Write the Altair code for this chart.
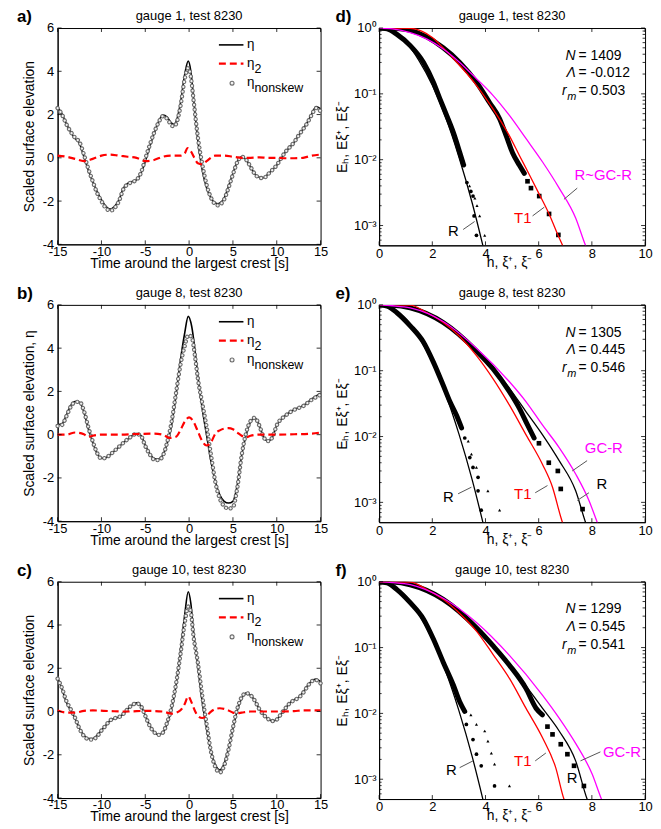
import altair as alt
import pandas as pd

FONT = "Liberation Sans"

# ---------------- time series (panels a, b, c) ----------------
a_t = [-15, -14.5, -14, -13.5, -13, -12.5, -12, -11.5, -11, -10.5, -10, -9.5, -9, -8.5, -8, -7.5, -7, -6.5, -6, -5.5,
       -5, -4.5, -4, -3.5, -3, -2.5, -2, -1.7, -1.5, -1, -0.5, -0.1, 0.2, 0.5, 1, 1.5, 2, 2.5, 3, 3.3,
       3.5, 4, 4.5, 5, 5.5, 6, 6.5, 7, 7.5, 8, 8.5, 9, 9.5, 10, 10.5, 11, 11.5, 12, 12.5, 13, 13.5, 14, 14.5, 15]
a_eta = [2.34, 2.03, 1.57, 1.19, 0.89, 0.66, 0.05, -0.56, -1.1, -1.56, -1.94, -2.24, -2.37, -2.24, -1.94, -1.4, -1.18, -1.1, -1.02, -0.72,
         -0.18, 0.5, 1.11, 1.65, 1.98, 1.88, 1.6, 1.54, 1.65, 2.49, 3.86, 4.47, 4.0, 2.79, 0.81, -0.56, -1.4, -1.86, -2.09, -2.12,
         -2.09, -1.86, -1.33, -0.72, -0.18, 0.05, -0.08, -0.41, -0.75, -0.9, -0.92, -0.75, -0.56, -0.34, -0.03, 0.27, 0.5, 0.73, 1.04, 1.34,
         1.65, 2.03, 2.37, 2.26]
a_nonskew = [2.3, 2.0, 1.55, 1.2, 0.92, 0.72, 0.15, -0.5, -1.08, -1.62, -2.0, -2.32, -2.45, -2.32, -2.0, -1.45, -1.22, -1.12, -1.02, -0.7,
             -0.05, 0.58, 1.15, 1.62, 1.92, 1.8, 1.5, 1.45, 1.55, 2.35, 3.65, 4.15, 3.75, 2.7, 0.95, -0.3, -1.25, -1.85, -2.15, -2.2,
             -2.17, -1.92, -1.38, -0.76, -0.2, 0.05, -0.08, -0.41, -0.75, -0.92, -0.94, -0.76, -0.56, -0.34, -0.02, 0.28, 0.5, 0.73, 1.04, 1.32,
             1.62, 2.0, 2.3, 2.15]
a_t2 = [-15, -14, -13, -12, -11, -10, -9, -8, -7, -6, -5, -4, -3, -2, -1, -0.5, -0.2, 0.2, 0.6, 1,
        1.5, 2, 3, 4, 5, 6, 7, 8, 9, 10, 11, 12, 13, 14, 15]
a_eta2 = [0.1, 0.05, -0.05, -0.15, -0.05, 0.1, 0.15, 0.1, 0.05, 0, -0.15, -0.1, 0.05, 0.1, 0.1, 0.2, 0.45, 0.3, 0, -0.25,
          -0.3, -0.15, 0.1, 0.1, 0.05, 0, 0.0, 0.02, 0, 0, -0.02, -0.02, 0, 0.1, 0.15]

b_t = [-15, -14.5, -14, -13.5, -13, -12.5, -12, -11.5, -11, -10.5, -10, -9.5, -9, -8, -7, -6, -5.5, -5, -4.5, -4,
       -3.5, -3, -2.5, -2, -1.5, -1, -0.5, -0.1, 0.3, 0.7, 1, 1.5, 2, 2.5, 3, 3.5, 4, 4.5, 5, 5.5,
       6, 6.5, 7, 7.5, 8, 8.5, 9, 9.5, 10, 11, 12, 13, 14, 15]
b_eta = [0.46, 0.5, 0.9, 1.35, 1.53, 1.5, 1.05, 0.27, -0.34, -0.87, -1.1, -1.07, -0.92, -0.56, -0.21, 0.05, -0.03, -0.49, -0.87, -1.1,
         -1.13, -0.95, -0.41, 0.43, 1.8, 3.4, 4.7, 5.47, 5.0, 3.8, 2.72, 1.19, -0.03, -1.25, -2.17, -2.78, -3.08, -3.16, -3.08, -2.32,
         -0.95, -0.03, 0.58, 0.78, 0.43, -0.11, -0.29, -0.11, 0.43, 0.89, 1.16, 1.34, 1.65, 1.92]
b_nonskew = [0.4, 0.45, 0.85, 1.3, 1.5, 1.52, 1.1, 0.35, -0.3, -0.85, -1.1, -1.07, -0.92, -0.56, -0.21, 0.03, -0.05, -0.52, -0.9, -1.15,
             -1.18, -0.98, -0.35, 0.58, 1.9, 3.2, 4.1, 4.6, 4.5, 3.55, 2.6, 1.45, 0.35, -0.95, -2.2, -2.95, -3.3, -3.42, -3.35, -2.45,
             -0.95, 0.07, 0.62, 0.78, 0.43, -0.11, -0.3, -0.12, 0.43, 0.88, 1.15, 1.32, 1.62, 1.85]
b_t2 = [-15, -14, -13, -12, -11.5, -11, -10, -8, -6, -4, -3, -2.2, -1.5, -1, -0.5, 0, 0.5, 1, 1.5, 2,
        2.5, 3, 3.5, 4, 4.5, 5, 5.5, 6, 6.5, 7, 8, 10, 12, 14, 15]
b_eta2 = [0, 0, 0.1, 0.02, -0.1, -0.05, 0, 0, 0.03, 0.05, 0, -0.15, -0.1, 0.2, 0.6, 0.8, 0.6, 0.15, -0.3, -0.5,
          -0.35, 0.05, 0.2, 0.28, 0.3, 0.25, 0.1, -0.05, -0.12, -0.05, 0, 0, 0.02, 0.05, 0.1]

c_t = [-15, -14.5, -14, -13.5, -13, -12.5, -12, -11.5, -11, -10.5, -10, -9.5, -9, -8.5, -8, -7.5, -7, -6.5, -6, -5.5,
       -5, -4.5, -4, -3.5, -3, -2.5, -2, -1.5, -1, -0.5, -0.1, 0.2, 0.5, 1, 1.5, 2, 2.5, 3, 3.5, 4,
       4.5, 5, 5.5, 6, 6.5, 7, 7.5, 8, 8.5, 9, 9.5, 10, 10.5, 11, 11.5, 12, 12.5, 13, 13.5, 14, 14.5, 15]
c_eta = [1.57, 1.04, 0.43, 0.05, -0.34, -0.79, -1.1, -1.25, -1.25, -1.1, -0.87, -0.64, -0.41, -0.31, -0.26, -0.11, 0.12, 0.3, 0.4, 0.27,
         -0.18, -0.64, -0.95, -1.07, -0.98, -0.56, 0.12, 1.19, 2.72, 4.47, 5.54, 5.0, 3.71, 2.1, 0.43, -0.79, -1.86, -2.47, -2.7, -2.4,
         -1.71, -0.79, 0.05, 0.61, 0.85, 0.76, 0.5, 0.12, -0.15, -0.34, -0.44, -0.37, -0.11, 0.15, 0.4, 0.55, 0.66, 0.89, 1.19, 1.42,
         1.5, 1.37]
c_nonskew = [1.52, 1.08, 0.48, 0.1, -0.3, -0.8, -1.13, -1.28, -1.3, -1.15, -0.88, -0.64, -0.41, -0.31, -0.26, -0.11, 0.12, 0.3, 0.38, 0.25,
             -0.2, -0.66, -0.95, -1.08, -0.98, -0.5, 0.2, 1.25, 2.6, 4.1, 4.85, 4.6, 3.5, 2.25, 0.72, -0.6, -1.86, -2.57, -2.82, -2.5,
             -1.75, -0.75, 0.13, 0.66, 0.85, 0.76, 0.5, 0.12, -0.15, -0.34, -0.44, -0.37, -0.11, 0.15, 0.39, 0.53, 0.64, 0.86, 1.16, 1.4,
             1.45, 1.3]
c_t2 = [-15, -14, -13, -12, -11, -9, -7, -5, -3, -2, -1, -0.5, -0.1, 0.3, 0.7, 1, 1.5, 2, 2.5, 3,
        3.5, 4, 4.5, 5, 5.5, 6, 7, 8, 10, 12, 13, 15]
c_eta2 = [0.05, -0.05, -0.05, 0.03, 0.05, 0.02, 0, 0.03, 0, -0.1, 0.05, 0.35, 0.7, 0.4, 0.0, -0.2, -0.3, -0.2, 0.0, 0.12,
          0.15, 0.12, 0.05, -0.05, -0.08, -0.05, 0, 0, 0, 0.02, 0.05, 0.05]

# ---------------- exceedance (panels d, e, f) ----------------
R_h = [0, 0.5, 1, 1.5, 2, 2.5, 3, 3.5, 3.9, 4.05]
R_E = [1, 0.88, 0.61, 0.32, 0.135, 0.044, 0.011, 0.0022, 0.0005, 0.00028]

d_band1_h = [0, 0.3, 0.67, 1.17, 1.67, 2.04, 2.29, 2.54, 2.79, 3.03, 3.18]
d_band1_E = [1, 0.97, 0.80, 0.54, 0.30, 0.15, 0.083, 0.047, 0.026, 0.013, 0.0083]
d_dot_h = [3.3, 3.45, 3.53, 3.57, 3.66]
d_dot_E = [0.0045, 0.0033, 0.0028, 0.0014, 0.00071]
d_tri_h = [3.4, 3.6, 3.68, 3.78, 3.97]
d_tri_E = [0.0040, 0.0026, 0.0020, 0.0014, 0.00071]
d_band2_h = [0, 0.5, 1.17, 2.41, 3.03, 3.66, 4.15, 4.53, 4.78, 5.02, 5.27, 5.46]
d_band2_E = [1, 0.99, 0.92, 0.50, 0.30, 0.15, 0.074, 0.042, 0.023, 0.0126, 0.0083, 0.0062]
d_sq_h = [5.58, 5.71, 6.02, 6.39, 6.74]
d_sq_E = [0.0047, 0.0037, 0.0028, 0.0015, 0.00072]
d_T1_h = [0, 0.6, 1.17, 1.6, 2.0, 2.41, 3.03, 3.66, 4.28, 4.9, 5.27, 5.65, 6.02, 6.39, 6.77, 6.95]
d_T1_E = [1, 1, 0.99, 0.9, 0.72, 0.50, 0.27, 0.135, 0.059, 0.023, 0.0117, 0.0059, 0.0030, 0.0015, 0.00065, 0.00045]
d_GC_h = [0, 0.5, 1.17, 1.8, 2.41, 3.03, 3.66, 4.28, 4.9, 5.52, 6.14, 6.77, 7.39, 7.76, 7.9]
d_GC_E = [1, 0.97, 0.85, 0.68, 0.48, 0.30, 0.17, 0.095, 0.047, 0.021, 0.0093, 0.0037, 0.0013, 0.0005, 0.00037]

e_band1_h = [0, 0.3, 0.67, 1.17, 1.67, 2.04, 2.41, 2.66, 2.91, 3.1]
e_band1_E = [1, 0.96, 0.76, 0.48, 0.27, 0.135, 0.060, 0.034, 0.021, 0.0135]
e_dot_h = [3.22, 3.41, 3.53, 3.72, 3.72, 3.84]
e_dot_E = [0.0095, 0.0048, 0.0034, 0.0024, 0.0015, 0.00076]
e_tri_h = [3.35, 3.47, 3.66, 4.09, 4.53]
e_tri_E = [0.0085, 0.0054, 0.0034, 0.0015, 0.00076]
e_band2_h = [0, 0.5, 1.17, 2.41, 3.66, 4.28, 4.9, 5.27, 5.58, 5.83]
e_band2_E = [1, 0.99, 0.90, 0.54, 0.20, 0.107, 0.048, 0.027, 0.015, 0.0095]
e_sq_h = [6.01, 6.38, 6.72, 6.83, 7.65]
e_sq_E = [0.0079, 0.0040, 0.0030, 0.0016, 0.00079]
e_T1_h = [0, 0.6, 1.17, 1.8, 2.41, 3.03, 3.66, 4.28, 4.9, 5.52, 6.14, 6.52, 6.83, 6.95]
e_T1_E = [1, 1, 0.99, 0.76, 0.54, 0.33, 0.17, 0.076, 0.030, 0.0107, 0.0038, 0.0017, 0.0006, 0.00042]
e_GC_h = [0, 0.5, 1.17, 2.41, 3.66, 4.9, 5.52, 6.14, 6.77, 7.39, 7.89, 8.2, 8.35]
e_GC_E = [1, 0.97, 0.90, 0.56, 0.22, 0.068, 0.034, 0.015, 0.0068, 0.0027, 0.00107, 0.0005, 0.00035]
e_R2_h = [0, 0.5, 1.17, 2.41, 3.66, 4.9, 5.52, 6.14, 6.77, 7.39, 7.76, 7.9]
e_R2_E = [1, 0.98, 0.90, 0.55, 0.21, 0.054, 0.024, 0.0107, 0.0043, 0.0015, 0.0005, 0.00035]

f_band1_h = [0, 0.3, 0.67, 1.17, 1.67, 2.04, 2.41, 2.79, 3.03, 3.22]
f_band1_E = [1, 0.96, 0.76, 0.48, 0.27, 0.135, 0.060, 0.027, 0.015, 0.0107]
f_dot_h = [3.28, 3.53, 3.66, 3.84, 4.34]
f_dot_E = [0.0068, 0.004, 0.0024, 0.0016, 0.00079]
f_tri_h = [3.45, 3.66, 3.97, 4.09, 4.22, 4.34, 4.9]
f_tri_E = [0.0095, 0.0068, 0.0054, 0.0038, 0.0025, 0.0017, 0.00079]
f_band2_h = [0, 0.5, 1.17, 2.41, 3.66, 4.28, 4.9, 5.52, 5.9, 6.14]
f_band2_E = [1, 0.99, 0.90, 0.54, 0.20, 0.107, 0.054, 0.024, 0.012, 0.0095]
f_sq_h = [6.33, 6.52, 6.83, 7.08, 7.33, 7.7]
f_sq_E = [0.0063, 0.0048, 0.0034, 0.0024, 0.0016, 0.00079]
f_T1_h = [0, 0.6, 1.17, 1.8, 2.41, 3.03, 3.66, 4.28, 4.9, 5.52, 6.14, 6.64, 6.95, 7.05]
f_T1_E = [1, 1, 0.99, 0.76, 0.54, 0.33, 0.178, 0.079, 0.034, 0.012, 0.0043, 0.0015, 0.0005, 0.0004]
f_GC_h = [0, 0.5, 1.17, 2.41, 3.66, 4.9, 6.14, 6.77, 7.39, 8.01, 8.36, 8.5]
f_GC_E = [1, 0.97, 0.90, 0.56, 0.24, 0.076, 0.019, 0.0085, 0.0035, 0.0012, 0.0005, 0.00037]
f_R2_h = [0, 0.5, 1.17, 2.41, 3.66, 4.9, 6.14, 6.77, 7.39, 7.82, 7.95]
f_R2_E = [1, 0.98, 0.90, 0.55, 0.21, 0.056, 0.012, 0.0054, 0.0019, 0.0005, 0.00037]

# curve labels
d_lab = ["R", "T1", "R~GC-R"]
d_lab_h = [2.79, 5.4, 8.43]
d_lab_E = [0.00083, 0.0013, 0.0059]
d_lab_c = ["black", "#ff0000", "#ff00ff"]
d_lead = [[3.16, 0.00087, 3.59, 0.00115], [5.77, 0.0014, 6.21, 0.0019], [7.45, 0.0037, 6.95, 0.0025]]

e_lab = ["R", "T1", "GC-R", "R"]
e_lab_h = [2.6, 5.4, 8.45, 8.38]
e_lab_E = [0.0012, 0.00135, 0.0068, 0.0019]
e_lab_c = ["black", "#ff0000", "#ff00ff", "black"]
e_lead = [[2.97, 0.00135, 3.47, 0.0017], [5.87, 0.0014, 6.33, 0.0018], [7.82, 0.0043, 7.26, 0.003], [7.89, 0.0014, 7.45, 0.00107]]

f_lab = ["R", "T1", "R", "GC-R"]
f_lab_h = [2.72, 5.4, 7.26, 9.13]
f_lab_E = [0.00138, 0.0019, 0.00105, 0.0026]
f_lab_c = ["black", "#ff0000", "black", "#ff00ff"]
f_lead = [[3.03, 0.0015, 3.53, 0.0019], [5.87, 0.0019, 6.27, 0.0025], [8.32, 0.0026, 7.57, 0.0019]]

d_stats = ["1409", "-0.012", "0.503"]
e_stats = ["1305", "0.445", "0.546"]
f_stats = ["1299", "0.545", "0.541"]
STAT_E = [0.38, 0.205, 0.11]

TS_XTICKS = [-15, -10, -5, 0, 5, 10, 15]
TS_YTICKS = [-4, -2, 0, 2, 4, 6]
EX_XTICKS = [0, 2, 4, 6, 8, 10]
EX_YTICKS = [0.001, 0.01, 0.1, 1]
EX_YMINOR = [0.0006, 0.0007, 0.0008, 0.0009,
             0.002, 0.003, 0.004, 0.005, 0.006, 0.007, 0.008, 0.009,
             0.02, 0.03, 0.04, 0.05, 0.06, 0.07, 0.08, 0.09,
             0.2, 0.3, 0.4, 0.5, 0.6, 0.7, 0.8, 0.9]

W_L, H_L = 265, 218
W_R, H_R = 268, 219


def tick_layers(X, Y, xt, yt, W, H, ym=None):
    dx = pd.DataFrame({"x": xt})
    dy = pd.DataFrame({"y": yt})
    st = dict(color="black", strokeWidth=0.8)
    out = [
        alt.Chart(dx).mark_rule(**st).encode(x=X, y=alt.value(H), y2=alt.value(H - 4)),
        alt.Chart(dx).mark_rule(**st).encode(x=X, y=alt.value(0), y2=alt.value(4)),
        alt.Chart(dy).mark_rule(**st).encode(y=Y, x=alt.value(0), x2=alt.value(4)),
        alt.Chart(dy).mark_rule(**st).encode(y=Y, x=alt.value(W), x2=alt.value(W - 4)),
    ]
    if ym:
        dm = pd.DataFrame({"y": ym})
        out.append(alt.Chart(dm).mark_rule(**st).encode(y=Y, x=alt.value(0), x2=alt.value(2.5)))
        out.append(alt.Chart(dm).mark_rule(**st).encode(y=Y, x=alt.value(W), x2=alt.value(W - 2.5)))
    return out


def head_layers(title, letter, W, letter_x):
    t = alt.Chart(pd.DataFrame({"s": [title]})).mark_text(
        fontSize=13, align="center", baseline="middle", x=W / 2, y=-12).encode(text="s:N")
    l = alt.Chart(pd.DataFrame({"s": [letter]})).mark_text(
        fontSize=17, fontWeight="bold", align="left", baseline="middle", x=letter_x, y=-11).encode(text="s:N")
    return [t, l]


def ts_panel(t, eta, ns, t2, eta2, title, letter, ytitle):
    xs = alt.Scale(domain=[-15, 15], nice=False, zero=False)
    ys = alt.Scale(domain=[-4, 6], nice=False, zero=False)
    xax = alt.Axis(values=TS_XTICKS, title="Time around the largest crest [s]", labelExpr="'' + datum.value",
                   ticks=False, labelPadding=1, titlePadding=-2, labelFlush=False)
    yax = alt.Axis(values=TS_YTICKS, title=ytitle, labelExpr="'' + datum.value", ticks=False,
                   labelPadding=4, titlePadding=6)
    X = alt.X("x:Q", scale=xs, axis=xax)
    Y = alt.Y("y:Q", scale=ys, axis=yax)
    df = pd.DataFrame({"x": t, "y": eta})
    dn = pd.DataFrame({"x": t, "y": ns})
    d2 = pd.DataFrame({"x": t2, "y": eta2})
    eta_l = alt.Chart(df).mark_line(color="black", strokeWidth=1.6, interpolate="monotone").encode(x=X, y=Y)
    ns_o = alt.Chart(dn).mark_line(color="#6a6a6a", strokeWidth=4.4, strokeDash=[0.01, 4.8], strokeCap="round",
                                   interpolate="monotone").encode(x=X, y=Y)
    ns_i = alt.Chart(dn).mark_line(color="#f2f2f2", strokeWidth=2.2, strokeDash=[0.01, 4.8], strokeCap="round",
                                   interpolate="monotone").encode(x=X, y=Y)
    e2 = alt.Chart(d2).mark_line(color="#ff0000", strokeWidth=2.2, strokeDash=[7, 4],
                                 interpolate="monotone").encode(x=X, y=Y)
    # legend
    lg = pd.DataFrame({"x": [3.4, 3.4], "x2": [6.2, 6.2], "y": [5.22, 4.35]})
    leg1 = alt.Chart(lg.iloc[[0]]).mark_rule(color="black", strokeWidth=1.6).encode(x=X, x2="x2:Q", y=Y)
    leg2 = alt.Chart(lg.iloc[[1]]).mark_rule(color="#ff0000", strokeWidth=2.2, strokeDash=[7, 4]).encode(x=X, x2="x2:Q", y=Y)
    leg3 = alt.Chart(pd.DataFrame({"x": [4.9], "y": [3.45]})).mark_point(
        shape="circle", size=16, color="#6a6a6a", fill="#f2f2f2", filled=False, strokeWidth=1.1, opacity=1).encode(x=X, y=Y)
    lt = pd.DataFrame({"x": [6.6, 6.6, 6.6], "y": [5.22, 4.35, 3.45], "s": ["\u03b7", "\u03b7", "\u03b7"]})
    legt = alt.Chart(lt).mark_text(fontSize=13.5, align="left", baseline="middle", dy=-1).encode(x=X, y=Y, text="s:N")
    ls = pd.DataFrame({"x": [7.45, 7.45], "y": [4.35, 3.45], "s": ["2", "nonskew"]})
    legs = alt.Chart(ls).mark_text(fontSize=12.5, align="left", baseline="middle", dy=5).encode(x=X, y=Y, text="s:N")
    layers = [eta_l, ns_o, ns_i, e2, leg1, leg2, leg3, legt, legs]
    layers += tick_layers(X, Y, TS_XTICKS, TS_YTICKS, W_L, H_L)
    layers += head_layers(title, letter, W_L, -41)
    return alt.layer(*layers).properties(width=W_L, height=H_L)


def ex_panel(b1h, b1E, doth, dotE, trih, triE, b2h, b2E, sqh, sqE, t1h, t1E, gch, gcE, r2h, r2E,
             lab, labh, labE, labc, lead, stats, title, letter):
    xs = alt.Scale(domain=[0, 10], nice=False, zero=False)
    ys = alt.Scale(type="log", domain=[0.0005, 1], nice=False)
    xax = alt.Axis(values=EX_XTICKS, title="h, \u03be\u207a, \u03be\u207b", ticks=False, labelPadding=2,
                   titleX=131, titleY=21, titleBaseline="alphabetic", labelFlush=False)
    ylab = ("datum.value >= 0.99 ? '10\u2070' : datum.value >= 0.099 ? '10\u207b\u00b9' : "
            "datum.value >= 0.0099 ? '10\u207b\u00b2' : '10\u207b\u00b3'")
    yax = alt.Axis(values=EX_YTICKS, title="E\u2095, E\u03be\u207a, E\u03be\u207b", labelExpr=ylab, ticks=False,
                   labelPadding=3, titlePadding=4)
    X = alt.X("x:Q", scale=xs, axis=xax)
    Y = alt.Y("y:Q", scale=ys, axis=yax)

    def line(h, E, color, width, cap="butt"):
        return alt.Chart(pd.DataFrame({"x": h, "y": E})).mark_line(
            color=color, strokeWidth=width, interpolate="monotone", clip=True, strokeCap=cap).encode(x=X, y=Y)

    layers = [line(b1h, b1E, "black", 5, "round"), line(b2h, b2E, "black", 5, "round")]
    layers.append(alt.Chart(pd.DataFrame({"x": doth, "y": dotE})).mark_circle(size=14, color="black", opacity=1).encode(x=X, y=Y))
    layers.append(alt.Chart(pd.DataFrame({"x": trih, "y": triE})).mark_point(
        shape="triangle-up", size=10, color="black", filled=True, opacity=1).encode(x=X, y=Y))
    layers.append(alt.Chart(pd.DataFrame({"x": sqh, "y": sqE})).mark_square(size=22, color="black", opacity=1).encode(x=X, y=Y))
    layers.append(line(R_h, R_E, "black", 1.3))
    if r2h:
        layers.append(line(r2h, r2E, "black", 1.3))
    layers.append(line(t1h, t1E, "#ff0000", 1.3))
    layers.append(line(gch, gcE, "#ff00ff", 1.3))
    ld = pd.DataFrame({"x": [l[0] for l in lead], "y": [l[1] for l in lead],
                       "x2": [l[2] for l in lead], "y2": [l[3] for l in lead]})
    layers.append(alt.Chart(ld).mark_rule(color="#555555", strokeWidth=1).encode(x=X, y=Y, x2="x2:Q", y2="y2:Q"))
    lb = pd.DataFrame({"x": labh, "y": labE, "s": lab, "c": labc})
    layers.append(alt.Chart(lb).mark_text(fontSize=15, align="center", baseline="middle").encode(
        x=X, y=Y, text="s:N", color=alt.Color("c:N", scale=None)))
    sym = pd.DataFrame({"x": [7.39, 7.39], "y": STAT_E[:2], "s": ["N", "\u039b"]})
    layers.append(alt.Chart(sym).mark_text(fontSize=14, fontStyle="italic", align="right", baseline="middle").encode(
        x=X, y=Y, text="s:N"))
    rr = pd.DataFrame({"x": [7.05], "y": [STAT_E[2]], "s": ["r"]})
    layers.append(alt.Chart(rr).mark_text(fontSize=14, fontStyle="italic", align="right", baseline="middle").encode(
        x=X, y=Y, text="s:N"))
    rm = pd.DataFrame({"x": [7.07], "y": [STAT_E[2]], "s": ["m"]})
    layers.append(alt.Chart(rm).mark_text(fontSize=11, fontStyle="italic", align="left", baseline="middle", dy=6).encode(
        x=X, y=Y, text="s:N"))
    vals = pd.DataFrame({"x": [7.5, 7.5, 7.5], "y": STAT_E, "s": ["= " + s for s in stats]})
    layers.append(alt.Chart(vals).mark_text(fontSize=14, align="left", baseline="middle").encode(x=X, y=Y, text="s:N"))
    layers += tick_layers(X, Y, EX_XTICKS, EX_YTICKS, W_R, H_R, EX_YMINOR)
    layers += head_layers(title, letter, W_R, -44)
    return alt.layer(*layers).properties(width=W_R, height=H_R)


pa = ts_panel(a_t, a_eta, a_nonskew, a_t2, a_eta2, "gauge 1, test 8230", "a)", "Scaled surface elevation")
pb = ts_panel(b_t, b_eta, b_nonskew, b_t2, b_eta2, "gauge 8, test 8230", "b)", "Scaled surface elevation, \u03b7")
pc = ts_panel(c_t, c_eta, c_nonskew, c_t2, c_eta2, "gauge 10, test 8230", "c)", "Scaled surface elevation")

pd_ = ex_panel(d_band1_h, d_band1_E, d_dot_h, d_dot_E, d_tri_h, d_tri_E, d_band2_h, d_band2_E, d_sq_h, d_sq_E,
               d_T1_h, d_T1_E, d_GC_h, d_GC_E, None, None, d_lab, d_lab_h, d_lab_E, d_lab_c, d_lead, d_stats,
               "gauge 1, test 8230", "d)")
pe = ex_panel(e_band1_h, e_band1_E, e_dot_h, e_dot_E, e_tri_h, e_tri_E, e_band2_h, e_band2_E, e_sq_h, e_sq_E,
              e_T1_h, e_T1_E, e_GC_h, e_GC_E, e_R2_h, e_R2_E, e_lab, e_lab_h, e_lab_E, e_lab_c, e_lead, e_stats,
              "gauge 8, test 8230", "e)")
pf = ex_panel(f_band1_h, f_band1_E, f_dot_h, f_dot_E, f_tri_h, f_tri_E, f_band2_h, f_band2_E, f_sq_h, f_sq_E,
              f_T1_h, f_T1_E, f_GC_h, f_GC_E, f_R2_h, f_R2_E, f_lab, f_lab_h, f_lab_E, f_lab_c, f_lead, f_stats,
              "gauge 10, test 8230", "f)")

rows = [alt.hconcat(pa, pd_, spacing=4), alt.hconcat(pb, pe, spacing=4), alt.hconcat(pc, pf, spacing=4)]
chart = alt.vconcat(*rows, spacing=13).properties(
    padding={"left": 8, "top": -4, "right": 0, "bottom": 0}
).configure_view(stroke="black", strokeWidth=1).configure_axis(
    labelFont=FONT, titleFont=FONT, labelFontSize=13, titleFontSize=14, labelColor="black", titleColor="black",
    titleFontWeight="normal", domainColor="black", domainWidth=1, grid=False
).configure_text(font=FONT, color="black")

chart.save("out.html", embed_options={"renderer": "svg", "actions": False})
